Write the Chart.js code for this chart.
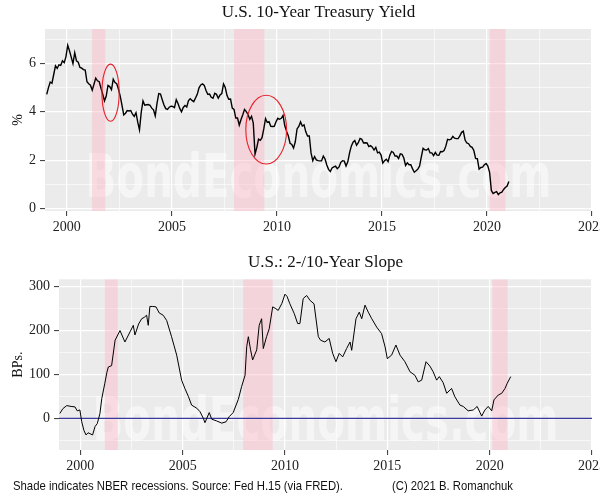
<!DOCTYPE html>
<html><head><meta charset="utf-8">
<script src="https://cdn.jsdelivr.net/npm/chart.js@4.4.1/dist/chart.umd.min.js"></script>
<style>
html,body{margin:0;padding:0;background:#fff;}
#wrap{position:relative;width:600px;height:500px;overflow:hidden;background:#fff;}
#c1{position:absolute;left:0;top:0;}
#c2{position:absolute;left:0;top:240px;}
</style></head><body>
<div id="wrap"><canvas id="c1" width="640" height="240"></canvas><canvas id="c2" width="640" height="260"></canvas></div>
<script>
// ---------- DATA ----------
// U.S. 10-year Treasury yield (%), monthly readings from Jan 1999 to Jan 2021
const yieldStartYear = 1999;
const yield10 = [
 4.72,5.00,5.23,5.18,5.54,5.90,5.79,5.94,5.92,6.11,6.03,6.28,
 6.75,6.52,6.26,5.99,6.44,6.10,6.05,5.83,5.80,5.74,5.72,5.24,
 5.16,5.10,4.89,5.14,5.39,5.28,5.24,4.97,4.73,4.45,4.65,5.09,
 5.04,4.91,5.35,5.21,5.16,4.93,4.65,4.26,3.87,3.94,4.05,4.03,
 4.05,3.90,3.81,3.96,3.57,3.25,3.98,4.45,4.27,4.29,4.30,4.27,
 4.15,4.08,3.83,4.35,4.75,4.73,4.50,4.28,4.13,4.10,4.19,4.23,
 4.22,4.17,4.50,4.34,4.14,4.00,4.18,4.26,4.20,4.46,4.54,4.47,
 4.42,4.57,4.72,4.99,5.11,5.15,5.09,4.88,4.72,4.73,4.60,4.56,
 4.76,4.72,4.56,4.69,4.75,5.15,5.00,4.67,4.52,4.53,4.15,4.10,
 3.74,3.74,3.45,3.68,3.88,4.10,4.01,3.89,3.69,3.81,3.53,2.25,
 2.52,2.87,2.82,2.93,3.29,3.72,3.56,3.59,3.40,3.39,3.40,3.59,
 3.73,3.69,3.73,3.85,3.42,3.20,3.01,2.70,2.65,2.50,2.76,3.29,
 3.39,3.58,3.41,3.46,3.17,3.00,3.00,2.30,1.98,2.15,2.01,1.98,
 1.97,1.97,2.17,2.05,1.80,1.62,1.53,1.68,1.72,1.75,1.65,1.72,
 1.91,1.98,1.96,1.76,1.93,2.30,2.58,2.74,2.81,2.62,2.72,2.90,
 2.86,2.71,2.72,2.71,2.56,2.60,2.54,2.42,2.53,2.30,2.33,2.21,
 1.88,1.98,2.04,1.94,2.20,2.36,2.32,2.17,2.17,2.07,2.26,2.24,
 2.09,1.78,1.89,1.81,1.81,1.64,1.50,1.56,1.63,1.76,2.14,2.49,
 2.43,2.42,2.48,2.30,2.30,2.19,2.32,2.21,2.20,2.36,2.35,2.40,
 2.58,2.86,2.84,2.87,2.98,2.91,2.89,2.89,3.00,3.15,3.20,2.83,
 2.71,2.68,2.57,2.53,2.40,2.07,2.06,1.63,1.70,1.71,1.81,1.86,
 1.76,1.50,0.75,0.62,0.67,0.70,0.58,0.65,0.68,0.79,0.87,0.93,
 1.12
];

// U.S. 2-/10-year slope (bps), readings by decimal year
const slopeYears = [
 1999.0,1999.15,1999.34,1999.55,1999.74,1999.85,1999.98,2000.07,2000.18,2000.28,2000.38,2000.47,2000.6,2000.72,2000.83,2000.96,
 2001.05,2001.2,2001.3,2001.37,2001.53,2001.7,2001.94,2002.18,2002.43,2002.59,2002.67,2002.85,2003.0,2003.12,2003.24,2003.32,2003.4,2003.54,2003.7,2003.86,
 2004.05,2004.22,2004.46,2004.71,2004.95,2005.11,2005.28,2005.44,2005.69,2005.85,2006.01,2006.09,2006.3,2006.42,2006.66,2006.91,
 2007.12,2007.28,2007.47,2007.72,2007.88,2008.05,2008.13,2008.21,2008.32,2008.42,2008.62,2008.74,2008.86,2008.94,2009.1,2009.23,2009.4,2009.55,2009.67,2009.85,2010.0,2010.1,2010.24,2010.45,2010.62,
 2010.73,2010.89,2011.06,2011.22,2011.42,2011.63,2011.74,2011.95,2012.16,2012.33,2012.49,2012.65,2012.82,2013.01,2013.18,2013.26,2013.47,2013.63,2013.75,2013.91,
 2014.07,2014.24,2014.48,2014.72,2014.89,2015.0,2015.21,2015.42,2015.62,2015.86,2016.11,2016.35,2016.51,2016.68,2016.89,
 2017.08,2017.24,2017.41,2017.54,2017.73,2017.9,2018.14,2018.3,2018.55,2018.71,2018.95,2019.2,2019.39,2019.61,2019.77,2019.93,
 2020.1,2020.21,2020.42,2020.59,2020.75,2020.86,2021.03
];
const slopeBps = [
 11,22,29,27,26,17,19,-8,-28,-38,-33,-35,-38,-19,-12,11,
 45,80,105,117,120,178,200,174,197,212,190,215,227,230,235,212,255,255,254,240,
 235,223,186,144,87,68,50,30,23,15,0,-10,13,-2,-6,-11,
 -8,4,13,43,72,98,163,186,156,133,156,212,227,159,186,204,254,250,246,262,283,278,261,239,216,
 216,273,280,269,261,186,178,174,182,148,129,148,140,159,174,155,227,242,227,258,
 242,227,208,193,163,136,144,167,144,129,106,98,83,87,129,
 119,106,87,95,81,57,68,49,30,27,17,19,27,5,19,27,
 17,42,53,57,68,80,95
];

// NBER recessions (decimal years)
const recStart = [2001.2, 2007.96, 2020.13];
const recEnd   = [2001.83, 2009.4, 2020.88];

// Highlight ellipses on the yield panel (data units)
const ellCenterX = [2002.08, 2009.49];
const ellCenterY = [4.79, 3.26];
const ellRadiusX = [0.41, 0.97];
const ellRadiusY = [1.18, 1.42];

// Axes / ticks
const xMin = 1998.96, xMax = 2025;
const xMajor = [2000, 2005, 2010, 2015, 2020, 2025];
const xMinor = [2002.5, 2007.5, 2012.5, 2017.5, 2022.5];
const topYMajor = [0, 2, 4, 6];
const topYMinor = [1, 3, 5, 7];
const topYMin = -0.1, topYMax = 7.42;
const botYMajor = [0, 100, 200, 300];
const botYMinor = [-50, 50, 150, 250];
const botYMin = -72.3, botYMax = 316.9;
const zeroLine = [0];

// Text
const topTitle = 'U.S. 10-Year Treasury Yield';
const botTitle = 'U.S.: 2-/10-Year Slope';
const topYTitle = '%';
const botYTitle = 'BPs.';
const watermark = 'BondEconomics.com';
const footLeft = 'Shade indicates NBER recessions. Source: Fed H.15 (via FRED).';
const footRight = '(C) 2021 B. Romanchuk';

// ---------- RENDER ----------
const SERIF = '"Liberation Serif", "Times New Roman", serif';
const SANS = '"Liberation Sans", Arial, sans-serif';

const yieldPoints = yield10.map((v, i) => ({ x: yieldStartYear + (i + 0.5) / 12, y: v }));
const slopePoints = slopeYears.map((yr, i) => ({ x: yr, y: slopeBps[i] }));

function tickSet(major, minor) {
  return major.concat(minor).sort((a, b) => a - b).map(v => ({ value: v }));
}
function gridOpts(major) {
  const isMaj = c => c.tick && major.includes(c.tick.value);
  return {
    color: '#ffffff',
    lineWidth: c => isMaj(c) ? 1.2 : 0.6,
    drawTicks: true,
    tickLength: 5,
    tickWidth: 1,
    tickColor: c => isMaj(c) ? '#333333' : 'rgba(0,0,0,0)'
  };
}
function fitText(ctx, text, x, y, width) {
  const w = ctx.measureText(text).width;
  ctx.save();
  ctx.translate(x, y);
  ctx.scale(width / w, 1);
  ctx.fillText(text, 0, 0);
  ctx.restore();
}

function panelPlugin(o) {
  return {
    id: 'panel' + o.id,
    beforeDraw(chart) {
      const { ctx, chartArea: a } = chart;
      ctx.save();
      ctx.fillStyle = '#EBEBEB';
      ctx.fillRect(a.left, a.top, a.width, a.height);
      ctx.restore();
    },
    beforeDatasetsDraw(chart) {
      const { ctx, chartArea: a, scales } = chart;
      const x = scales.x, y = scales.y;
      ctx.save();
      ctx.beginPath(); ctx.rect(a.left, a.top, a.width, a.height); ctx.clip();
      // watermark
      ctx.save();
      ctx.font = 'bold 60px "DejaVu Sans Condensed", "Liberation Sans", sans-serif';
      const w = ctx.measureText(watermark).width;
      ctx.translate((a.left + a.right) / 2, a.top + o.wmPos * a.height);
      ctx.scale(466 / w, 1);
      ctx.textAlign = 'center';
      ctx.textBaseline = 'alphabetic';
      ctx.fillStyle = 'rgba(255,255,255,0.5)';
      ctx.fillText(watermark, 0, 0);
      ctx.restore();
      // recession shading
      ctx.fillStyle = 'rgba(255,180,195,0.42)';
      recStart.forEach((s, i) => {
        const x0 = x.getPixelForValue(s), x1 = x.getPixelForValue(recEnd[i]);
        ctx.fillRect(x0, a.top, x1 - x0, a.height);
      });
      // horizontal reference lines
      (o.hlines || []).forEach(v => {
        const py = y.getPixelForValue(v);
        ctx.strokeStyle = '#3A3A9C';
        ctx.lineWidth = 1.2;
        ctx.beginPath(); ctx.moveTo(a.left, py); ctx.lineTo(a.right, py); ctx.stroke();
      });
      ctx.restore();
    },
    afterDatasetsDraw(chart) {
      const { ctx, scales } = chart;
      const x = scales.x, y = scales.y;
      ctx.save();
      (o.ellipses || []).forEach(e => {
        const cx = x.getPixelForValue(e.cx), cy = y.getPixelForValue(e.cy);
        const rx = Math.abs(x.getPixelForValue(e.cx + e.rx) - cx);
        const ry = Math.abs(y.getPixelForValue(e.cy + e.ry) - cy);
        ctx.strokeStyle = '#E8202A';
        ctx.lineWidth = 1.1;
        ctx.beginPath(); ctx.ellipse(cx, cy, rx, ry, 0, 0, Math.PI * 2); ctx.stroke();
      });
      ctx.restore();
    },
    afterDraw(chart) {
      const { ctx, chartArea: a } = chart;
      ctx.save();
      ctx.fillStyle = '#111';
      ctx.font = '17px ' + SERIF;
      ctx.textAlign = 'center';
      ctx.textBaseline = 'alphabetic';
      ctx.fillText(o.title, (a.left + a.right) / 2, o.titleBaseline);
      ctx.font = '14px ' + SERIF;
      ctx.translate(21.5, (a.top + a.bottom) / 2);
      ctx.rotate(-Math.PI / 2);
      ctx.fillText(o.yTitle, 0, 0);
      ctx.restore();
      if (o.footer) {
        ctx.save();
        ctx.fillStyle = '#111';
        ctx.font = '13px ' + SANS;
        ctx.textBaseline = 'alphabetic';
        ctx.textAlign = 'left';
        fitText(ctx, footLeft, 13, o.footerBaseline, 330);
        fitText(ctx, footRight, 392, o.footerBaseline, 121);
        ctx.restore();
      }
    }
  };
}

function makeChart(canvasId, o) {
  const canvas = document.getElementById(canvasId);
  return new Chart(canvas, {
    type: 'line',
    data: { datasets: [{ data: o.points, borderColor: '#000', borderWidth: o.lineWidth, pointRadius: 0, tension: 0, fill: false }] },
    options: {
      responsive: false,
      animation: false,
      devicePixelRatio: 1,
      parsing: false,
      layout: { padding: { left: 0, right: 48, top: o.padTop, bottom: 0 } },
      plugins: { legend: { display: false }, tooltip: { enabled: false }, title: { display: false } },
      scales: {
        x: {
          type: 'linear', min: xMin, max: xMax,
          afterBuildTicks: s => { s.ticks = tickSet(xMajor, xMinor); },
          afterFit: s => { s.height = o.xAxisHeight; },
          ticks: {
            autoSkip: false, maxRotation: 0, minRotation: 0, padding: 3,
            color: '#222', font: { family: SERIF, size: 14 },
            callback: v => xMajor.includes(v) ? String(v) : ''
          },
          grid: gridOpts(xMajor),
          border: { display: false }
        },
        y: {
          type: 'linear', min: o.yMin, max: o.yMax,
          afterBuildTicks: s => { s.ticks = tickSet(o.yMajor, o.yMinor); },
          afterFit: s => { s.width = o.yAxisWidth; },
          ticks: {
            autoSkip: false, padding: 4,
            color: '#222', font: { family: SERIF, size: 14 },
            callback: v => o.yMajor.includes(v) ? String(v) : ''
          },
          grid: gridOpts(o.yMajor),
          border: { display: false }
        }
      }
    },
    plugins: [panelPlugin(o)]
  });
}

makeChart('c1', {
  id: 'top', points: yieldPoints, lineWidth: 1.4,
  padTop: 29, xAxisHeight: 29, yAxisWidth: 45,
  yMin: topYMin, yMax: topYMax, yMajor: topYMajor, yMinor: topYMinor,
  title: topTitle, titleBaseline: 16.5, yTitle: topYTitle,
  wmPos: 0.923,
  ellipses: ellCenterX.map((cx, i) => ({ cx, cy: ellCenterY[i], rx: ellRadiusX[i], ry: ellRadiusY[i] }))
});

makeChart('c2', {
  id: 'bot', points: slopePoints, lineWidth: 1,
  padTop: 39.3, xAxisHeight: 50, yAxisWidth: 59,
  yMin: botYMin, yMax: botYMax, yMajor: botYMajor, yMinor: botYMinor,
  title: botTitle, titleBaseline: 26.5, yTitle: botYTitle,
  wmPos: 0.941, hlines: zeroLine,
  footer: true, footerBaseline: 250
});
</script>
</body></html>
